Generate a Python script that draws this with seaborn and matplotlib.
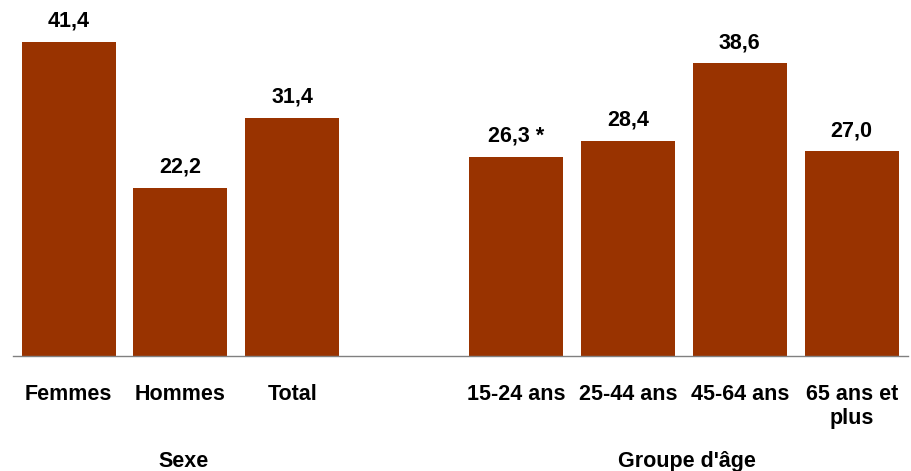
import matplotlib
matplotlib.use("Agg")
import matplotlib.pyplot as plt
import seaborn as sns
import pandas as pd
from matplotlib.transforms import blended_transform_factory

categories = ["Femmes", "Hommes", "Total", "15-24 ans", "25-44 ans", "45-64 ans", "65 ans et\nplus"]
values = [41.4, 22.2, 31.4, 26.3, 28.4, 38.6, 27.0]
value_labels = ["41,4", "22,2", "31,4", "26,3 *", "28,4", "38,6", "27,0"]
slot_order = ["Femmes", "Hommes", "Total", " ", "15-24 ans", "25-44 ans", "45-64 ans", "65 ans et\nplus"]
groups = ["Sexe", "Groupe d'âge"]

sns.set_theme(style="white")
plt.rcParams["font.family"] = ["Liberation Sans", "DejaVu Sans"]
plt.rcParams["font.weight"] = "bold"

df = pd.DataFrame({"cat": categories, "val": values})

fig = plt.figure(figsize=(9.12, 4.71), dpi=100)
ax = fig.add_axes([12.6 / 912, (471 - 356) / 471, 895 / 912, 356 / 471])

sns.barplot(data=df, x="cat", y="val", order=slot_order, color="#993300",
            saturation=1, width=0.84, ax=ax, errorbar=None, linewidth=0)

ax.set_xlim(-0.5, 7.5)
ax.set_ylim(0, 46.97)
ax.set_xlabel("")
ax.set_ylabel("")
ax.set_yticks([])
ax.set_xticks(range(len(slot_order)))
ax.set_xticklabels(slot_order, fontsize=15.5, fontweight="bold", color="black",
                   va="top", multialignment="center")
ax.tick_params(axis="x", length=0, pad=20)
for s in ["top", "left", "right"]:
    ax.spines[s].set_visible(False)
ax.spines["bottom"].set_color("#808080")
ax.spines["bottom"].set_linewidth(1.0)

pos = [i for i, c in enumerate(slot_order) if c.strip()]
for p, v, lab in zip(pos, values, value_labels):
    ax.annotate(lab, (p, v), xytext=(0, 11), textcoords="offset points",
                ha="center", va="baseline", fontsize=15.5, fontweight="bold", color="black")

tr = blended_transform_factory(ax.transData, fig.transFigure)
ax.text(1.03, 4 / 471, groups[0], transform=tr, ha="center", va="baseline",
        fontsize=15.5, fontweight="bold", color="black")
ax.text(5.53, 4 / 471, groups[1], transform=tr, ha="center", va="baseline",
        fontsize=15.5, fontweight="bold", color="black")

fig.savefig("out.png", dpi=100)
